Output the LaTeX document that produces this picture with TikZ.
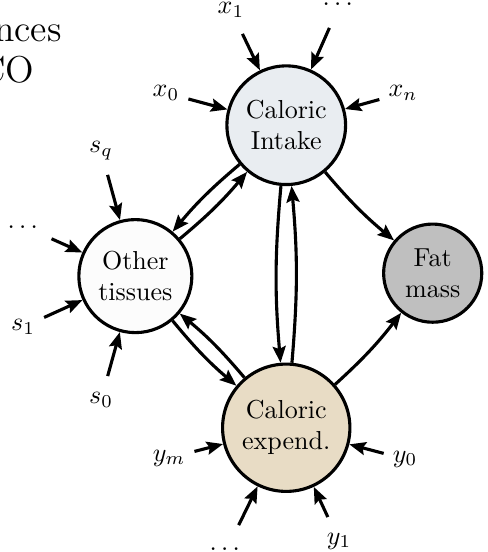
\documentclass[tikz,border=0pt]{standalone}
\usepackage{amsmath}
\usetikzlibrary{arrows.meta}

\definecolor{intakeblue}{RGB}{233,237,241}
\definecolor{tissuewhite}{RGB}{252,252,252}
\definecolor{expendtan}{RGB}{232,220,197}
\definecolor{fatgray}{RGB}{191,191,191}

\begin{document}
\begin{tikzpicture}[
  comp/.style={circle, draw, very thick, align=center},
  lbl/.style={minimum height=18pt},
  feed/.style={-{Stealth[length=6.3pt,width=5pt,inset=1pt]}, very thick},
  flow/.style={feed, bend right=5}]
  \useasboundingbox (0,0) rectangle (6.585,7.463);
  % cut-off text at the top left
  \node[anchor=base east, inner sep=0pt, font=\Large] (capA) at (0.838,6.903) {nces};
  \node[anchor=base east, inner sep=0pt, font=\Large] (capB) at (0.473,6.341) {CO};
  % compartments
  \node[comp, fill=intakeblue] (intake) at (3.87,5.77) {Caloric\\Intake};
  \node[comp, fill=tissuewhite] (other) at (1.83,3.73) {Other\\tissues};
  \node[comp, fill=expendtan] (expend) at (3.87,1.68) {Caloric\\expend.};
  \node[comp, fill=fatgray] (fat) at (5.85,3.77) {Fat\\mass};
  % inputs of caloric intake
  \node[lbl] (x1) at (3.123,7.328) {$x_1$};
  \draw[feed] (x1) -- (intake);
  \node[lbl] (xdots) at (4.597,7.409) {$\dots$};
  \draw[feed] (xdots) -- (intake);
  \node[lbl] (xn) at (5.449,6.206) {$x_n$};
  \draw[feed] (xn) -- (intake);
  \node[lbl] (x0) at (2.244,6.206) {$x_0$};
  \draw[feed] (x0) -- (intake);
  % inputs of other tissues
  \node[lbl] (sq) at (1.366,5.422) {$s_q$};
  \draw[feed] (sq) -- (other);
  \node[lbl] (sdots) at (0.338,4.394) {$\dots$};
  \draw[feed] (sdots) -- (other);
  \node[lbl] (s1) at (0.311,3.042) {$s_1$};
  \draw[feed] (s1) -- (other);
  \node[lbl] (s0) at (1.366,2.055) {$s_0$};
  \draw[feed] (s0) -- (other);
  % inputs of caloric expenditure
  \node[lbl] (ym) at (2.285,1.271) {$y_m$};
  \draw[feed] (ym) -- (expend);
  \node[lbl] (y0) at (5.476,1.257) {$y_0$};
  \draw[feed] (y0) -- (expend);
  \node[lbl] (ydots) at (3.069,0.04) {$\dots$};
  \draw[feed] (ydots) -- (expend);
  \node[lbl] (y1) at (4.583,0.149) {$y_1$};
  \draw[feed] (y1) -- (expend);
  % exchanges between compartments
  \draw[flow] (intake) to (other);
  \draw[flow] (other) to (intake);
  \draw[flow] (other) to (expend);
  \draw[flow] (expend) to (other);
  \draw[flow] (intake) to (expend);
  \draw[flow] (expend) to (intake);
  \draw[flow] (intake) to (fat);
  \draw[flow] (expend) to (fat);
\end{tikzpicture}
\end{document}
